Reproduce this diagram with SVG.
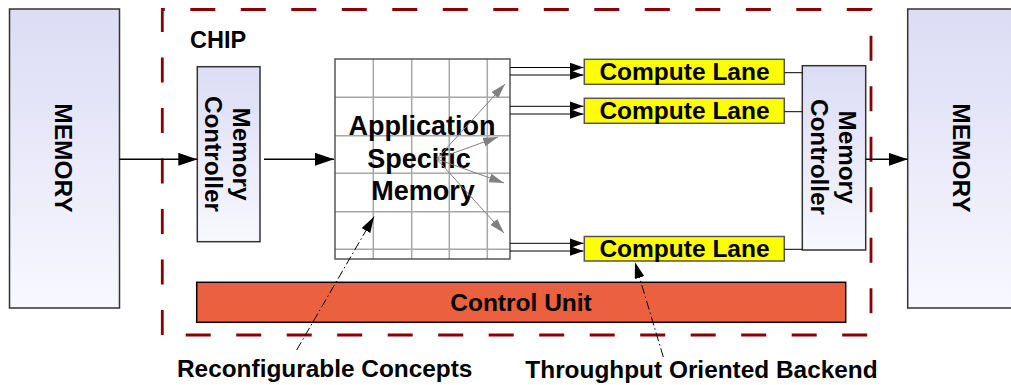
<svg xmlns="http://www.w3.org/2000/svg" width="1011" height="385" viewBox="0 0 1011 385">
  <style>
    text { font-family: "Liberation Sans", Arial, sans-serif; font-weight: bold; fill: #000; }
    .mem { stroke: #333; stroke-width: 1.5; fill: url(#lavender); }
    .grid { stroke: #a8a8a8; stroke-width: 1.5; fill: none; }
    .lane { fill: #ffff00; stroke: #555; stroke-width: 1.5; }
    .wire { stroke: #000; stroke-width: 1.6; fill: none; }
    .thin { stroke: #000; stroke-width: 1; fill: none; }
    .fan { stroke: #808080; stroke-width: 1; fill: none; marker-end: url(#grayHead); }
    .note { stroke: #000; stroke-width: 1; fill: none; stroke-dasharray: 9 3 1.5 3; marker-end: url(#noteHead); }
  </style>
  <defs>
    <linearGradient id="lavender" x1="0" y1="0" x2="0" y2="1">
      <stop offset="0" stop-color="#dcdcf5"/>
      <stop offset="1" stop-color="#f8f8ff"/>
    </linearGradient>
    <marker id="bigHead" markerUnits="userSpaceOnUse" markerWidth="19" markerHeight="13" refX="19" refY="6.5" orient="auto">
      <path d="M0,0 L19,6.5 L0,13 Z" fill="#000"/>
    </marker>
    <marker id="laneHead" markerUnits="userSpaceOnUse" markerWidth="14" markerHeight="10" refX="14" refY="5" orient="auto">
      <path d="M0,0 L14,5 L0,10 Z" fill="#000"/>
    </marker>
    <marker id="grayHead" markerUnits="userSpaceOnUse" markerWidth="15" markerHeight="9" refX="15" refY="4.5" orient="auto">
      <path d="M0,0 L15,4.5 L0,9 Z" fill="#808080"/>
    </marker>
    <marker id="noteHead" markerUnits="userSpaceOnUse" markerWidth="16" markerHeight="10" refX="16" refY="5" orient="auto">
      <path d="M0,0 L16,5 L0,10 Z" fill="#000"/>
    </marker>
  </defs>

  <rect width="1011" height="385" fill="#fff"/>

  <!-- off-chip memories -->
  <g id="memory-left">
    <rect class="mem" x="9.5" y="9" width="110" height="299"/>
    <text transform="translate(65,158) rotate(90)" y="10" font-size="24.5" text-anchor="middle">MEMORY</text>
  </g>
  <g id="memory-right">
    <rect class="mem" x="907.7" y="9" width="110" height="299"/>
    <text transform="translate(962,158) rotate(90)" y="9" font-size="24.5" text-anchor="middle">MEMORY</text>
  </g>

  <!-- chip boundary -->
  <g id="chip">
    <path d="M162.3,335 V9.5 H871 V335 H162.3" fill="none" stroke="#8b0000" stroke-width="2.8" stroke-dasharray="25 25.5"/>
    <text x="190" y="47.7" font-size="23.5">CHIP</text>
  </g>

  <g id="mc-left">
    <rect class="mem" x="197.3" y="66.7" width="62.7" height="175"/>
    <g transform="translate(228.5,154) rotate(90)" font-size="24.3">
      <text y="-4.5" text-anchor="middle">Memory</text>
      <text y="23.5" text-anchor="middle">Controller</text>
    </g>
  </g>

  <g id="asm">
    <rect x="335" y="59" width="175" height="200" fill="#fff"/>
    <path class="grid" d="M373.3,59 V259 M411.7,59 V259 M449.3,59 V259 M487.3,59 V259 M335,97.3 H510 M335,135.7 H510 M335,173.3 H510 M335,211.7 H510 M335,249.3 H510"/>
    <rect x="335" y="59" width="175" height="200" fill="none" stroke="#555" stroke-width="1.5"/>
    <text x="422" y="134.5" font-size="27" text-anchor="middle">Application</text>
    <text x="419" y="167.5" font-size="27" text-anchor="middle">Specific</text>
    <text x="423" y="199.5" font-size="27" text-anchor="middle">Memory</text>
  </g>

  <g id="lane-1">
    <rect class="lane" x="584.3" y="59.3" width="200" height="25"/>
    <text x="684.5" y="80.4" font-size="24.5" text-anchor="middle">Compute Lane</text>
  </g>
  <g id="lane-2">
    <rect class="lane" x="584.3" y="98.3" width="200" height="25"/>
    <text x="684.5" y="119.4" font-size="24.5" text-anchor="middle">Compute Lane</text>
  </g>
  <g id="lane-3">
    <rect class="lane" x="584.3" y="236.5" width="200" height="24.5"/>
    <text x="684.5" y="257.4" font-size="24.5" text-anchor="middle">Compute Lane</text>
  </g>

  <g id="mc-right">
    <rect class="mem" x="802.3" y="65.7" width="63.4" height="184.3"/>
    <g transform="translate(834,157) rotate(90)" font-size="24.3">
      <text y="-5" text-anchor="middle">Memory</text>
      <text y="23" text-anchor="middle">Controller</text>
    </g>
  </g>

  <g id="control-unit">
    <rect x="196.7" y="282.3" width="649" height="40" fill="#eb613f" stroke="#000" stroke-width="1.5"/>
    <text x="521" y="311" font-size="24.5" text-anchor="middle">Control Unit</text>
  </g>

  <g id="labels">
    <text x="324.7" y="376.7" font-size="24.4" text-anchor="middle">Reconfigurable Concepts</text>
    <text x="701.5" y="378" font-size="24.4" text-anchor="middle">Throughput Oriented Backend</text>
  </g>

  <g id="connectors">
    <!-- main data path -->
    <line class="wire" x1="119.5" y1="159.3" x2="197.3" y2="159.3" marker-end="url(#bigHead)"/>
    <line class="wire" x1="264" y1="159.3" x2="334" y2="159.3" marker-end="url(#bigHead)"/>
    <line class="wire" x1="865.7" y1="159.3" x2="907.7" y2="159.3" marker-end="url(#bigHead)"/>

    <!-- fan-out inside the memory -->
    <line class="fan" x1="436.7" y1="159" x2="505" y2="84"/>
    <line class="fan" x1="436.7" y1="159" x2="498" y2="137"/>
    <line class="fan" x1="436.7" y1="159" x2="504" y2="183"/>
    <line class="fan" x1="436.7" y1="159" x2="504" y2="233"/>

    <!-- paired feeds into the lanes -->
    <line class="thin" x1="510" y1="67.5" x2="583.5" y2="67.5" marker-end="url(#laneHead)"/>
    <line class="thin" x1="510" y1="75" x2="583.5" y2="75" marker-end="url(#laneHead)"/>
    <line class="thin" x1="510" y1="106.3" x2="583.5" y2="106.3" marker-end="url(#laneHead)"/>
    <line class="thin" x1="510" y1="114" x2="583.5" y2="114" marker-end="url(#laneHead)"/>
    <line class="thin" x1="510" y1="243.3" x2="583.5" y2="243.3" marker-end="url(#laneHead)"/>
    <line class="thin" x1="510" y1="251" x2="583.5" y2="251" marker-end="url(#laneHead)"/>

    <!-- lanes to the output controller -->
    <line class="thin" x1="784.3" y1="72.7" x2="802.3" y2="72.7"/>
    <line class="thin" x1="784.3" y1="111.7" x2="802.3" y2="111.7"/>
    <line class="thin" x1="784.3" y1="249.3" x2="802.3" y2="249.3"/>

    <!-- annotation pointers -->
    <line class="note" x1="296.7" y1="350" x2="374" y2="216.7"/>
    <line class="note" x1="663.3" y1="357" x2="635" y2="262.3"/>
  </g>
</svg>
